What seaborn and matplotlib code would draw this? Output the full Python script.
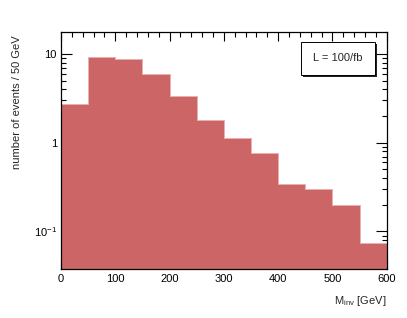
import numpy as np
import pandas as pd
import seaborn as sns
import matplotlib
matplotlib.use('Agg')
import matplotlib.pyplot as plt
import matplotlib.ticker as ticker
from matplotlib.patches import Rectangle

# histogram contents, 50 GeV bins
bin_edges = [0, 50, 100, 150, 200, 250, 300, 350, 400, 450, 500, 550, 600]
counts = [2.77, 9.33, 8.85, 6.0, 3.37, 1.83, 1.13, 0.76, 0.343, 0.30, 0.197, 0.074]
lumi_label = 'L = 100/fb'

centers = [(bin_edges[i] + bin_edges[i + 1]) / 2 for i in range(len(counts))]
df = pd.DataFrame({'m_inv': centers, 'n': counts})

sns.set_theme(style='ticks')
plt.rcParams['font.family'] = ['Liberation Sans', 'DejaVu Sans']
plt.rcParams['mathtext.fontset'] = 'custom'
plt.rcParams['mathtext.rm'] = 'Liberation Sans'
plt.rcParams['mathtext.it'] = 'Liberation Sans'

fig = plt.figure(figsize=(4.07, 3.18), dpi=100)
ax = fig.add_axes([0.150, 0.153, 0.800, 0.746])

sns.histplot(data=df, x='m_inv', weights='n', bins=bin_edges, ax=ax,
             element='step', fill=True, color='#cc6666', alpha=1,
             edgecolor='#eab0b0', linewidth=0.7)

ax.set_yscale('log')
ax.set_xlim(0, 600)
ax.set_ylim(0.0374, 17.7)

# ROOT-like ticks on all four sides
ax.xaxis.set_major_locator(ticker.MultipleLocator(100))
ax.xaxis.set_minor_locator(ticker.MultipleLocator(20))
ax.yaxis.set_major_locator(ticker.FixedLocator([0.1, 1, 10]))
ax.yaxis.set_minor_locator(ticker.LogLocator(base=10, subs=np.arange(2, 10)))
ax.yaxis.set_minor_formatter(ticker.NullFormatter())
ax.yaxis.set_major_formatter(ticker.FixedFormatter(['10$^{-1}$', '1', '10']))
ax.tick_params(which='both', direction='in', top=True, right=True,
               labelsize=8, colors='black', width=0.8, pad=3)
ax.tick_params(which='major', axis='y', length=8)
ax.tick_params(which='major', axis='x', length=6.5)
ax.tick_params(which='minor', length=3.5)
for s in ax.spines.values():
    s.set_linewidth(0.9)
    s.set_color('black')
    s.set_zorder(10)

ax.set_xlabel('')
ax.set_ylabel('')
fig.text(17 / 407, 1 - 102 / 318, 'number of events / 50 GeV', rotation=90,
         ha='center', va='center', fontsize=8)
fig.text(386.5 / 407, 1 - 301 / 318, 'M$_{\\mathrm{inv}}$ [GeV]', ha='right',
         va='center', fontsize=8)

# legend-style box with shadow
bx, by, bw, bh = 300.7 / 407, 1 - 75 / 318, 74.3 / 407, 33.3 / 318
fig.patches.append(Rectangle((bx + 2 / 407, by - 2 / 318), bw, bh,
                             transform=fig.transFigure, facecolor='#222222',
                             edgecolor='none', zorder=5))
fig.patches.append(Rectangle((bx, by), bw, bh, transform=fig.transFigure,
                             facecolor='white', edgecolor='black',
                             linewidth=0.7, zorder=6))
fig.text(bx + bw / 2, by + bh / 2, lumi_label, ha='center', va='center',
         fontsize=8, zorder=7)

fig.savefig('out.png', dpi=100)
